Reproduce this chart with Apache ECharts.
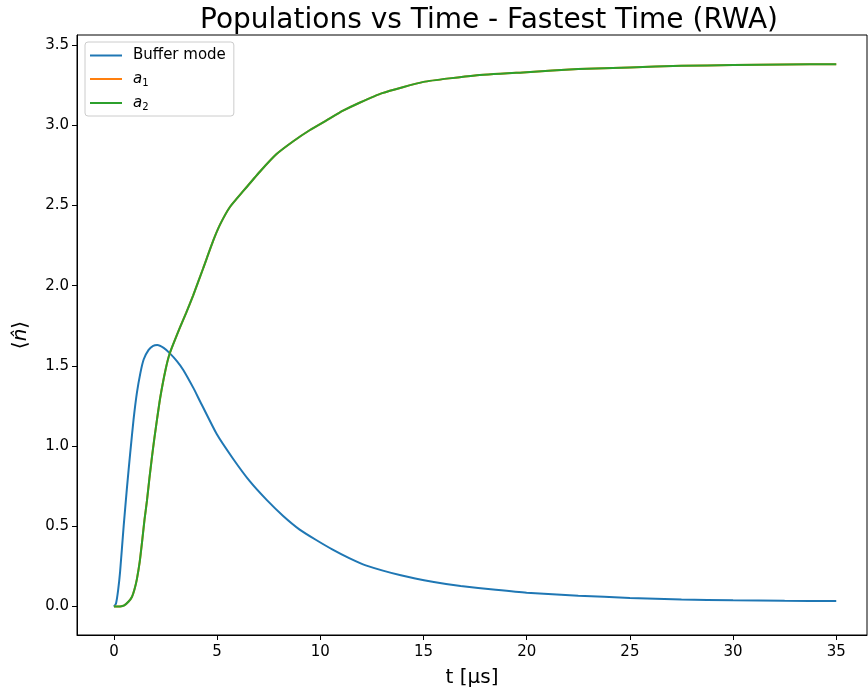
<!DOCTYPE html>
<html>
<head>
<meta charset="utf-8">
<script src="https://cdn.jsdelivr.net/npm/echarts@6/dist/echarts.min.js"></script>
<style>
html,body{margin:0;padding:0;background:#fff;}
#chart{width:868px;height:693px;}
</style>
</head>
<body>
<div id="chart"></div>
<script>
// ---- data ----
const tBuffer = [0, 0.1, 0.2, 0.3, 0.47, 0.63, 0.79, 0.95, 1.11, 1.28, 1.44, 1.68, 1.9, 2.1, 2.41, 2.71, 3.05, 3.36, 3.86, 4.17, 4.98, 5.78, 6.59, 7.4, 8.2, 9.0, 9.8, 10.6, 11.4, 12.2, 13.9, 15.5, 16.8, 18.5, 20, 22.5, 25, 27.5, 30, 32.5, 35];
const nBuffer = [0, 0.02, 0.1, 0.22, 0.50, 0.74, 0.96, 1.165, 1.33, 1.455, 1.54, 1.60, 1.625, 1.63, 1.612, 1.578, 1.53, 1.475, 1.36, 1.28, 1.075, 0.92, 0.78, 0.665, 0.565, 0.48, 0.415, 0.355, 0.302, 0.257, 0.195, 0.153, 0.128, 0.105, 0.087, 0.068, 0.054, 0.045, 0.039, 0.036, 0.035];
const tA = [0, 0.3, 0.5, 0.7, 0.87, 1.0, 1.11, 1.25, 1.36, 1.48, 1.6, 1.72, 1.84, 1.96, 2.08, 2.24, 2.49, 2.71, 3.2, 3.5, 3.84, 4.33, 4.81, 5.14, 5.62, 6.27, 7.07, 7.88, 8.69, 9.5, 10.3, 11.1, 11.9, 13, 15, 17.5, 20, 22.5, 25, 27.5, 30, 32.5, 35];
const nA1 = [0, 0.001, 0.008, 0.03, 0.06, 0.11, 0.17, 0.28, 0.40, 0.54, 0.66, 0.80, 0.93, 1.05, 1.16, 1.30, 1.47, 1.58, 1.74, 1.83, 1.94, 2.11, 2.28, 2.38, 2.49, 2.59, 2.71, 2.82, 2.90, 2.97, 3.03, 3.09, 3.14, 3.20, 3.27, 3.31, 3.33, 3.35, 3.36, 3.37, 3.375, 3.378, 3.38];
const nA2 = [0, 0.001, 0.008, 0.03, 0.06, 0.11, 0.17, 0.28, 0.40, 0.54, 0.66, 0.80, 0.93, 1.05, 1.16, 1.30, 1.47, 1.58, 1.74, 1.83, 1.94, 2.11, 2.28, 2.38, 2.49, 2.59, 2.71, 2.82, 2.90, 2.97, 3.03, 3.09, 3.14, 3.20, 3.27, 3.31, 3.33, 3.35, 3.36, 3.37, 3.375, 3.378, 3.38];
const xTicks = [0, 5, 10, 15, 20, 25, 30, 35];
const yTicks = [0, 0.5, 1.0, 1.5, 2.0, 2.5, 3.0, 3.5];
const seriesNames = ['Buffer mode', 'a1', 'a2'];

const zip = (a, b) => a.map((v, i) => [v, b[i]]);
const font = 'DejaVu Sans';

const chart = echarts.init(document.getElementById('chart'), null, {renderer: 'canvas'});
chart.setOption({
  animation: false,
  backgroundColor: '#fff',
  title: {
    text: 'Populations vs Time - Fastest Time (RWA)',
    left: 484, textAlign: 'center', top: 2,
    textStyle: {fontFamily: font, fontSize: 28, fontWeight: 'normal', color: '#000'}
  },
  legend: {
    orient: 'vertical', left: 85, top: 42,
    padding: [5, 8, 4, 5],
    icon: 'rect',
    itemWidth: 32, itemHeight: 2, itemGap: 6,
    backgroundColor: 'rgba(255,255,255,0.8)',
    borderColor: '#cccccc', borderWidth: 1, borderRadius: 3,
    data: seriesNames,
    formatter: function (name) {
      if (name === 'a1') return '{i|a}{s|1}';
      if (name === 'a2') return '{i|a}{s|2}';
      return name;
    },
    textStyle: {
      fontFamily: font, fontSize: 15, color: '#000', padding: [0, 0, 0, 6], lineHeight: 17,
      rich: {
        i: {fontFamily: font, fontSize: 15, fontStyle: 'italic', color: '#000', lineHeight: 17},
        s: {fontFamily: font, fontSize: 10, color: '#000', padding: [8, 0, 0, 0], lineHeight: 17}
      }
    }
  },
  grid: {
    left: 77, top: 35, width: 790, height: 601,
    show: true, borderColor: '#000', borderWidth: 1, backgroundColor: 'transparent'
  },
  xAxis: {
    type: 'value', min: -1.79, max: 36.49,
    name: 't [μs]', nameLocation: 'middle', nameGap: 33,
    nameTextStyle: {fontFamily: font, fontSize: 20, color: '#000'},
    splitLine: {show: false},
    axisLine: {onZero: false, lineStyle: {color: '#000', width: 1}},
    axisTick: {show: true, length: 5, lineStyle: {color: '#000'}, customValues: xTicks},
    axisLabel: {fontFamily: font, fontSize: 15, color: '#000', margin: 10, customValues: xTicks,
      formatter: v => String(v)}
  },
  yAxis: {
    type: 'value', min: -0.177, max: 3.562,
    name: '{b|⟨}{n|n̂}{b|⟩}', nameLocation: 'middle', nameGap: 46, nameRotate: 90,
    nameTextStyle: {fontFamily: font, fontSize: 20, color: '#000',
      rich: {
        b: {fontFamily: font, fontSize: 20, color: '#000'},
        n: {fontFamily: font, fontSize: 20, color: '#000', fontStyle: 'italic'}
      }},
    splitLine: {show: false},
    axisLine: {onZero: false, lineStyle: {color: '#000', width: 1}},
    axisTick: {show: true, length: 5, lineStyle: {color: '#000'}, customValues: yTicks},
    axisLabel: {fontFamily: font, fontSize: 15, color: '#000', margin: 8, customValues: yTicks,
      formatter: v => v.toFixed(1)}
  },
  series: [
    {name: 'Buffer mode', type: 'line', data: zip(tBuffer, nBuffer), showSymbol: false, symbol: 'none',
      smooth: 0.15, lineStyle: {color: '#1f77b4', width: 2}, itemStyle: {color: '#1f77b4'}, z: 3},
    {name: 'a1', type: 'line', data: zip(tA, nA1), showSymbol: false, symbol: 'none',
      smooth: 0.15, lineStyle: {color: '#ff7f0e', width: 2}, itemStyle: {color: '#ff7f0e'}, z: 4},
    {name: 'a2', type: 'line', data: zip(tA, nA2), showSymbol: false, symbol: 'none',
      smooth: 0.15, lineStyle: {color: '#2ca02c', width: 2}, itemStyle: {color: '#2ca02c'}, z: 5}
  ]
});
</script>
</body>
</html>
